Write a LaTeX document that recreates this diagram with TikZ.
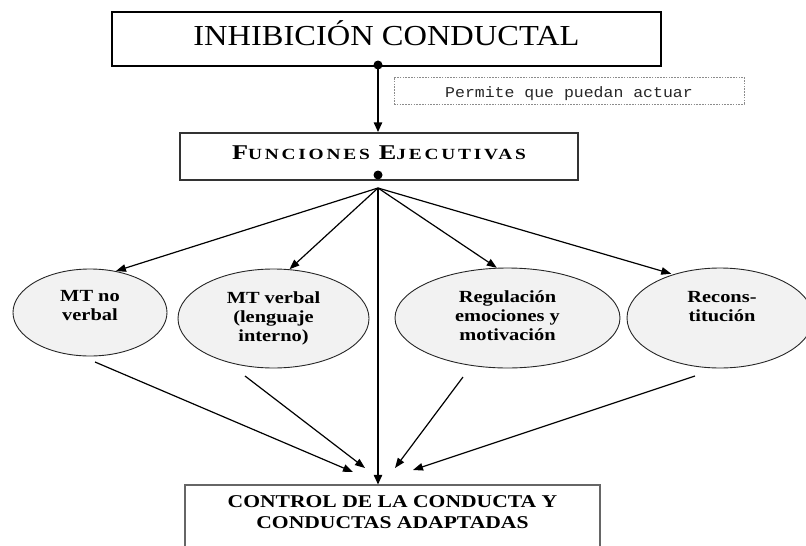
\documentclass[tikz,border=0pt]{standalone}
\usepackage{fontspec}
\setmainfont{Liberation Serif}
\newfontfamily\titlefont[FakeStretch=1.12]{Liberation Serif}
\newfontfamily\wideserif[FakeStretch=1.2]{Liberation Serif}
\newfontfamily\scfont[FakeStretch=1.25,LetterSpace=18]{Liberation Serif}
\newfontfamily\monofnt[FakeStretch=1.1]{Liberation Mono}
\usetikzlibrary{shapes.geometric,arrows.meta}
\begin{document}
\begin{tikzpicture}[x=1pt,y=-1pt,
  topbox/.style={draw, line width=2.5pt, minimum width=549pt, minimum height=54pt, inner sep=0pt,
    text height=20pt, text depth=8pt, font=\titlefont\fontsize{29}{32}\selectfont},
  notebox/.style={draw=black!45, line width=0.7pt, dash pattern=on 1.6pt off 1.2pt,
    minimum width=350pt, minimum height=27pt, inner sep=0pt, text height=16pt, text depth=3pt,
    text=black!85, font=\monofnt\fontsize{15}{17}\selectfont},
  febox/.style={draw=black!80, line width=1.4pt, minimum width=398pt, minimum height=47pt, inner sep=0pt,
    text height=14pt, text depth=9pt, font=\scfont\bfseries},
  ell/.style={ellipse, draw=black!85, line width=0.9pt, fill=black!5, inner sep=0pt},
  elltext/.style={align=center, inner sep=0pt, font=\wideserif\bfseries\fontsize{17}{19}\selectfont},
  cctext/.style={align=center, inner sep=0pt, minimum width=415pt, minimum height=55pt,
    font=\wideserif\bfseries\fontsize{18}{21}\selectfont},
  ccframe/.style={draw=black!60, line width=1.5pt},
  dotnode/.style={circle, fill=black, inner sep=0pt, minimum size=9pt},
  arr/.style={-{Triangle[length=10pt,width=7.5pt]}, line width=1.2pt},
  thickarr/.style={-{Triangle[length=10pt,width=8pt]}, line width=2.6pt}
]
\useasboundingbox (0,0) rectangle (806,546);

% top box
\node[topbox] (ib) at (386.5,39) {INHIBICIÓN CONDUCTAL};
\node[dotnode] (topdot) at (378,65) {};
\node[notebox] (note) at (569,90.5) {Permite que puedan actuar};

% executive functions
\node[febox] (fe) at (379,156.5) {{\fontsize{21}{22}\selectfont F}{\fontsize{15.5}{18}\selectfont UNCIONES}\hspace{9pt}{\fontsize{21}{22}\selectfont E}{\fontsize{15.5}{18}\selectfont JECUTIVAS}};
\node[dotnode] (fedot) at (378,175) {};
\coordinate (fan) at (378,188);

\draw[thickarr] (topdot.center) -- (topdot |- fe.north);

% ellipses
\node[ell, minimum width=154pt, minimum height=87pt] (e1) at (90,312.5) {};
\node[ell, minimum width=191pt, minimum height=99pt] (e2) at (273.5,318.5) {};
\node[ell, minimum width=225pt, minimum height=100pt] (e3) at (507.5,318) {};
\node[ell, minimum width=186pt, minimum height=100pt] (e4) at (720,318) {};

\node[elltext] (t1) at (90,305.5) {MT no\\verbal};
\node[elltext] (t2) at (273.5,318) {MT verbal\\(lenguaje\\interno)};
\node[elltext] (t3) at (507.5,315.7) {Regulación\\emociones y\\motivación};
\node[elltext] (t4) at (722,307) {Recons-\\titución};

% fan arrows
\draw[arr] (fan) -- (e1.58);
\draw[arr] (fan) -- (e2.72);
\draw[arr] (fan) -- (e3.102);
\draw[arr, shorten >=2pt] (fan) -- (e4.137);

% bottom box
\node[cctext] (cc) at (392.5,512.5) {CONTROL DE LA CONDUCTA Y\\CONDUCTAS ADAPTADAS};
\draw[ccframe] ([yshift=-12pt]cc.south west) -- (cc.north west) -- (cc.north east) -- ([yshift=-12pt]cc.south east);

\draw[thickarr] (fan) -- (fan |- cc.north);

% lower arrows
\coordinate (s1) at (95,362);
\coordinate (d1) at (353,472);
\coordinate (s2) at (245,376);
\coordinate (d2) at (365,468);
\coordinate (s3) at (463,377);
\coordinate (d3) at (395,468);
\coordinate (s4) at (695,376);
\coordinate (d4) at (413,470);
\draw[arr] (s1) -- (d1);
\draw[arr] (s2) -- (d2);
\draw[arr] (s3) -- (d3);
\draw[arr] (s4) -- (d4);
\end{tikzpicture}
\end{document}
